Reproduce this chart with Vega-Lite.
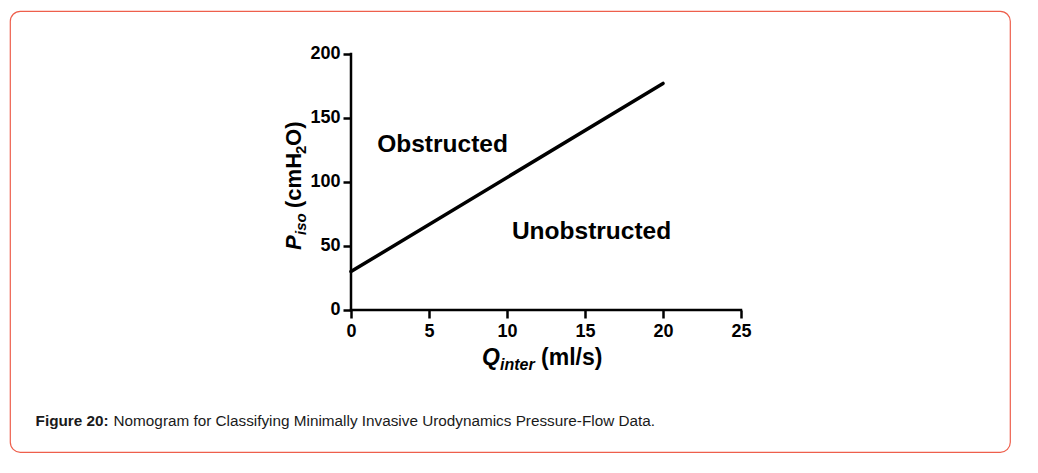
{
  "$schema": "https://vega.github.io/schema/vega-lite/v6.json",
  "width": 1000,
  "height": 441,
  "autosize": {"type": "none"},
  "padding": {"left": 10, "top": 11, "right": 28, "bottom": 21},
  "background": "white",
  "data": {"values": [{}]},
  "config": {
    "view": {"stroke": "#ee5f4c", "strokeWidth": 1.2, "cornerRadius": 10},
    "font": "Liberation Sans",
    "text": {"font": "Liberation Sans", "color": "black"}
  },
  "layer": [
    {
      "data": {"values": [{"q": 0, "p": 30}, {"q": 20, "p": 177}]},
      "mark": {"type": "line", "color": "black", "strokeWidth": 3.5, "strokeCap": "round"},
      "encoding": {
        "x": {
          "field": "q", "type": "quantitative",
          "scale": {"domain": [-21.859, 42.244], "nice": false, "zero": false},
          "axis": {
            "title": null, "domain": false, "grid": false,
            "values": [0, 5, 10, 15, 20, 25], "offset": -142,
            "tickSize": 8, "tickWidth": 2.5, "tickColor": "black",
            "labelFont": "Liberation Sans", "labelFontWeight": "bold", "labelFontSize": 18,
            "labelColor": "black", "labelPadding": 4, "labelFlush": false
          }
        },
        "y": {
          "field": "p", "type": "quantitative",
          "scale": {"domain": [-110.94, 233.59], "nice": false, "zero": false},
          "axis": {
            "title": null, "domain": false, "grid": false,
            "values": [0, 50, 100, 150, 200], "offset": -341,
            "tickSize": 8, "tickWidth": 2.5, "tickColor": "black",
            "labelFont": "Liberation Sans", "labelFontWeight": "bold", "labelFontSize": 18,
            "labelColor": "black", "labelPadding": 3, "labelFlush": false
          }
        }
      }
    },
    {
      "mark": {"type": "rule", "color": "black", "strokeWidth": 2.5, "strokeCap": "square"},
      "encoding": {"x": {"datum": 0}, "x2": {"datum": 25}, "y": {"datum": 0}}
    },
    {
      "mark": {"type": "rule", "color": "black", "strokeWidth": 2.5, "strokeCap": "square"},
      "encoding": {"x": {"datum": 0}, "y": {"datum": 0}, "y2": {"datum": 200}}
    },
    {
      "mark": {"type": "text", "fontSize": 24.5, "fontWeight": "bold", "align": "center", "baseline": "alphabetic"},
      "encoding": {"x": {"datum": 5.87}, "y": {"datum": 123.4}, "text": {"value": "Obstructed"}}
    },
    {
      "mark": {"type": "text", "fontSize": 24.5, "fontWeight": "bold", "align": "center", "baseline": "alphabetic"},
      "encoding": {"x": {"datum": 15.42}, "y": {"datum": 55.5}, "text": {"value": "Unobstructed"}}
    },
    {
      "mark": {"type": "text", "fontSize": 23, "fontWeight": "bold", "fontStyle": "italic", "align": "left", "baseline": "alphabetic"},
      "encoding": {"x": {"datum": 8.4}, "y": {"datum": -42.97}, "text": {"value": "Q"}}
    },
    {
      "mark": {"type": "text", "fontSize": 16, "fontWeight": "bold", "fontStyle": "italic", "align": "left", "baseline": "alphabetic", "dx": 18, "dy": 5},
      "encoding": {"x": {"datum": 8.4}, "y": {"datum": -42.97}, "text": {"value": "inter"}}
    },
    {
      "mark": {"type": "text", "fontSize": 23, "fontWeight": "bold", "align": "left", "baseline": "alphabetic", "dx": 59},
      "encoding": {"x": {"datum": 8.4}, "y": {"datum": -42.97}, "text": {"value": "(ml/s)"}}
    },
    {
      "mark": {"type": "text", "fontSize": 22, "fontWeight": "bold", "fontStyle": "italic", "align": "left", "baseline": "alphabetic", "angle": 270},
      "encoding": {"x": {"datum": -3.205}, "y": {"datum": 46.9}, "text": {"value": "P"}}
    },
    {
      "mark": {"type": "text", "fontSize": 15, "fontWeight": "bold", "fontStyle": "italic", "align": "left", "baseline": "alphabetic", "angle": 270, "dx": 15, "dy": 5},
      "encoding": {"x": {"datum": -3.205}, "y": {"datum": 46.9}, "text": {"value": "iso"}}
    },
    {
      "mark": {"type": "text", "fontSize": 22, "fontWeight": "bold", "align": "left", "baseline": "alphabetic", "angle": 270, "dx": 42},
      "encoding": {"x": {"datum": -3.205}, "y": {"datum": 46.9}, "text": {"value": "(cmH"}}
    },
    {
      "mark": {"type": "text", "fontSize": 15, "fontWeight": "bold", "align": "left", "baseline": "alphabetic", "angle": 270, "dx": 96, "dy": 5},
      "encoding": {"x": {"datum": -3.205}, "y": {"datum": 46.9}, "text": {"value": "2"}}
    },
    {
      "mark": {"type": "text", "fontSize": 22, "fontWeight": "bold", "align": "left", "baseline": "alphabetic", "angle": 270, "dx": 104},
      "encoding": {"x": {"datum": -3.205}, "y": {"datum": 46.9}, "text": {"value": "O)"}}
    },
    {
      "mark": {"type": "text", "fontSize": 15.3, "fontWeight": "bold", "align": "left", "baseline": "alphabetic", "color": "#1a1a1a"},
      "encoding": {"x": {"datum": -20.22}, "y": {"datum": -90.6}, "text": {"value": "Figure 20:"}}
    },
    {
      "mark": {"type": "text", "fontSize": 15.3, "align": "left", "baseline": "alphabetic", "color": "#1a1a1a", "dx": 78},
      "encoding": {"x": {"datum": -20.22}, "y": {"datum": -90.6}, "text": {"value": "Nomogram for Classifying Minimally Invasive Urodynamics Pressure-Flow Data."}}
    }
  ]
}
